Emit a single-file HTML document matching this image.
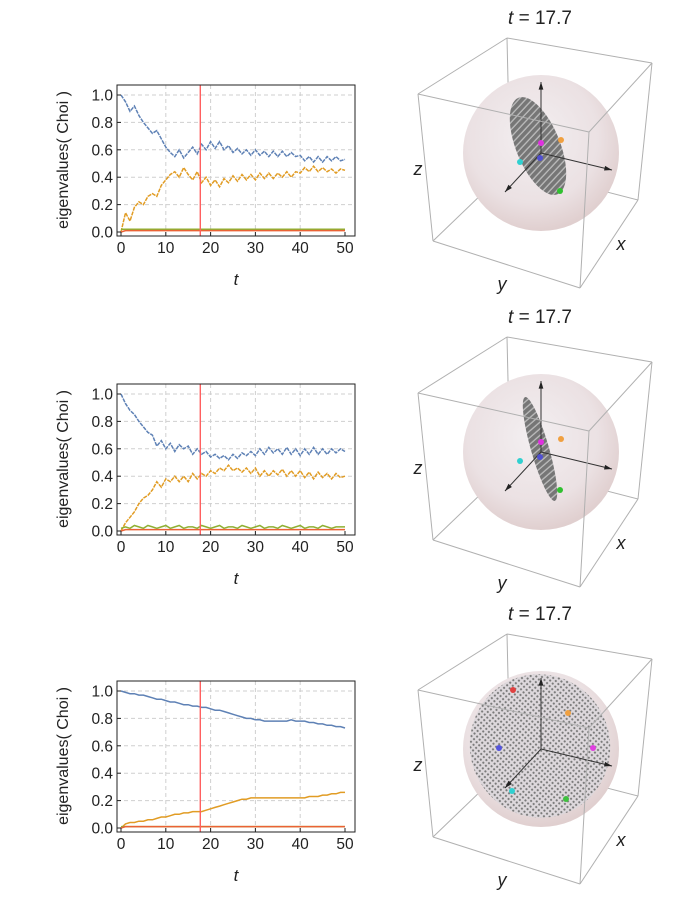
<!DOCTYPE html>
<html><head><meta charset="utf-8"><style>
body{margin:0;background:#fff;}
svg text{font-family:"Liberation Sans",sans-serif;}
</style></head><body>
<svg id="s" width="700" height="900" viewBox="0 0 700 900" xmlns="http://www.w3.org/2000/svg">
<defs>
<radialGradient id="sph" cx="45%" cy="40%" r="60%">
<stop offset="0" stop-color="#f3eff1"/><stop offset="0.7" stop-color="#ebe1e3"/><stop offset="1" stop-color="#e0cfcf"/>
</radialGradient>
<pattern id="stripe" width="5" height="5" patternUnits="userSpaceOnUse" patternTransform="rotate(-25)">
<rect width="5" height="5" fill="#767676"/><rect y="3.2" width="5" height="1.3" fill="#bdbdbd"/>
</pattern>
<pattern id="dots" width="4" height="4" patternUnits="userSpaceOnUse" patternTransform="rotate(-20)">
<rect width="4" height="4" fill="#ddd8dc"/><circle cx="2" cy="2" r="1.1" fill="#7a7a7a"/>
</pattern>
</defs>
</svg>
<script>
const tVals=[];for(let i=0;i<=50;i++)tVals.push(i);
const xTicks=[0,10,20,30,40,50];
const yTicks=[0.0,0.2,0.4,0.6,0.8,1.0];
const yTickLabels=["0.0","0.2","0.4","0.6","0.8","1.0"];
const markerT=17.7;
const blue1=[1.0,0.95,0.88,0.92,0.85,0.80,0.76,0.72,0.74,0.68,0.62,0.58,0.55,0.60,0.54,0.58,0.62,0.57,0.64,0.60,0.66,0.61,0.66,0.60,0.63,0.58,0.61,0.57,0.60,0.56,0.60,0.56,0.59,0.55,0.59,0.55,0.59,0.55,0.58,0.55,0.56,0.52,0.55,0.51,0.55,0.51,0.55,0.52,0.55,0.52,0.53];
const orange1=[0.0,0.14,0.08,0.18,0.22,0.20,0.26,0.28,0.26,0.34,0.38,0.42,0.44,0.40,0.47,0.42,0.38,0.44,0.36,0.40,0.34,0.38,0.33,0.39,0.36,0.41,0.37,0.42,0.38,0.42,0.38,0.43,0.39,0.43,0.39,0.43,0.40,0.44,0.40,0.44,0.43,0.47,0.44,0.48,0.44,0.47,0.44,0.46,0.43,0.46,0.45];
const green1=[0.02,0.02,0.02,0.02,0.02,0.02,0.02,0.02,0.02,0.02,0.02,0.02,0.02,0.02,0.02,0.02,0.02,0.02,0.02,0.02,0.02,0.02,0.02,0.02,0.02,0.02,0.02,0.02,0.02,0.02,0.02,0.02,0.02,0.02,0.02,0.02,0.02,0.02,0.02,0.02,0.02,0.02,0.02,0.02,0.02,0.02,0.02,0.02,0.02,0.02,0.02];
const red1=[0.0,0.01,0.01,0.01,0.01,0.01,0.01,0.01,0.01,0.01,0.01,0.01,0.01,0.01,0.01,0.01,0.01,0.01,0.01,0.01,0.01,0.01,0.01,0.01,0.01,0.01,0.01,0.01,0.01,0.01,0.01,0.01,0.01,0.01,0.01,0.01,0.01,0.01,0.01,0.01,0.01,0.01,0.01,0.01,0.01,0.01,0.01,0.01,0.01,0.01,0.01];
const blue2=[1.0,0.93,0.88,0.85,0.80,0.76,0.72,0.70,0.62,0.66,0.60,0.64,0.58,0.63,0.60,0.62,0.56,0.60,0.56,0.58,0.54,0.56,0.53,0.55,0.52,0.56,0.53,0.57,0.55,0.58,0.55,0.60,0.56,0.61,0.57,0.60,0.56,0.61,0.56,0.60,0.55,0.60,0.56,0.61,0.56,0.60,0.56,0.60,0.57,0.60,0.58];
const orange2=[0.0,0.06,0.10,0.14,0.20,0.24,0.26,0.30,0.36,0.32,0.38,0.36,0.40,0.36,0.40,0.36,0.42,0.38,0.42,0.40,0.44,0.42,0.46,0.44,0.48,0.44,0.46,0.43,0.46,0.42,0.46,0.40,0.44,0.40,0.44,0.41,0.45,0.40,0.44,0.40,0.44,0.39,0.43,0.38,0.43,0.39,0.42,0.38,0.42,0.39,0.40];
const green2=[0.02,0.03,0.02,0.04,0.03,0.02,0.04,0.03,0.02,0.03,0.04,0.02,0.03,0.04,0.02,0.03,0.03,0.02,0.04,0.03,0.02,0.03,0.04,0.02,0.03,0.03,0.02,0.04,0.03,0.02,0.03,0.04,0.02,0.03,0.03,0.02,0.04,0.03,0.02,0.03,0.04,0.02,0.03,0.03,0.02,0.04,0.03,0.02,0.03,0.03,0.03];
const red2=red1.slice();
const blue3=[1.0,0.99,0.98,0.98,0.97,0.97,0.96,0.95,0.94,0.94,0.93,0.92,0.92,0.91,0.90,0.90,0.89,0.89,0.88,0.88,0.87,0.86,0.86,0.85,0.84,0.83,0.82,0.81,0.80,0.80,0.79,0.79,0.78,0.78,0.78,0.78,0.78,0.78,0.79,0.78,0.78,0.78,0.77,0.77,0.76,0.76,0.75,0.75,0.74,0.74,0.73];
const orange3=[0.0,0.03,0.04,0.04,0.05,0.05,0.06,0.06,0.07,0.08,0.08,0.09,0.10,0.10,0.11,0.11,0.12,0.12,0.12,0.13,0.14,0.15,0.16,0.17,0.18,0.19,0.20,0.21,0.21,0.22,0.22,0.22,0.22,0.22,0.22,0.22,0.22,0.22,0.22,0.22,0.22,0.22,0.23,0.23,0.23,0.24,0.24,0.25,0.25,0.26,0.26];
const green3=[0.01,0.01,0.01,0.01,0.01,0.01,0.01,0.01,0.01,0.01,0.01,0.01,0.01,0.01,0.01,0.01,0.01,0.01,0.01,0.01,0.01,0.01,0.01,0.01,0.01,0.01,0.01,0.01,0.01,0.01,0.01,0.01,0.01,0.01,0.01,0.01,0.01,0.01,0.01,0.01,0.01,0.01,0.01,0.01,0.01,0.01,0.01,0.01,0.01,0.01,0.01];
const red3=red1.slice();

const svg=document.getElementById('s');
const NS='http://www.w3.org/2000/svg';
function mk(tag,attrs,parent){const e=document.createElementNS(NS,tag);for(const k in attrs)e.setAttribute(k,attrs[k]);(parent||svg).appendChild(e);return e;}

const panels=[
 {dy:0,series:[blue1,orange1,green1,red1],dash:true,ell:{rx:22,ry:52,rot:-22,cx:538,cy:146,fill:'url(#stripe)'}},
 {dy:299,series:[blue2,orange2,green2,red2],dash:true,ell:{rx:9,ry:54,rot:-16,cx:540,cy:150,fill:'url(#stripe)'}},
 {dy:596,series:[blue3,orange3,green3,red3],dash:false,ell:{rx:70,ry:72,rot:-20,cx:540,cy:150,fill:'url(#dots)'}}
];
const colors=['#5e81b5','#e19c24','#8fb032','#eb6235'];
const names=['blue','orange','green','red'];

panels.forEach((p,pi)=>{
 const g=mk('g',{transform:'translate(0,'+p.dy+')'});
 
 
 const L=117,R=355,T=85,B=236;
 const x=v=>121+(v/50)*224;
 const y=v=>232-v*137;
 xTicks.forEach(v=>{if(v>0&&v<50){const l=mk('line',{x1:x(v),x2:x(v),y1:T,y2:B,stroke:'#cfcfcf','stroke-dasharray':'4,3'},g);}});
 yTicks.forEach(v=>{if(v>0){const l=mk('line',{x1:L,x2:R,y1:y(v),y2:y(v),stroke:'#cfcfcf','stroke-dasharray':'4,3'},g);}});
 p.series.forEach((s,si)=>{
  const d=s.map((v,i)=>(i?'L':'M')+x(tVals[i]).toFixed(1)+','+y(v).toFixed(1)).join('');
  const path=mk('path',{d:d,fill:'none',stroke:colors[si],'stroke-width':1.5,'stroke-dasharray':p.dash&&si<2?'4,1':'none'},g);
  
  
 });
 const ml=mk('line',{x1:x(markerT),x2:x(markerT),y1:T,y2:B,stroke:'#ff6060','stroke-width':1.4},g);
 
 
 const fr=mk('rect',{x:L,y:T,width:R-L,height:B-T,fill:'none',stroke:'#222','stroke-width':1},g);
 
 
 xTicks.forEach(v=>{
  mk('line',{x1:x(v),x2:x(v),y1:B,y2:B-4,stroke:'#222'},g);
  const t=mk('text',{x:x(v),y:B+17,'font-size':15.5,'text-anchor':'middle',fill:'#222'},g);t.textContent=v;
  
 });
 yTicks.forEach((v,i)=>{
  mk('line',{x1:L,x2:L+4,y1:y(v),y2:y(v),stroke:'#222'},g);
  const t=mk('text',{x:L-4,y:y(v)+5.5,'font-size':15.5,'text-anchor':'end',fill:'#222'},g);t.textContent=yTickLabels[i];
  
 });
 const yl=mk('text',{x:0,y:0,'font-size':16,'text-anchor':'middle',fill:'#222',transform:'translate(68,160) rotate(-90)'},g);
 yl.textContent='eigenvalues( Choi )';
 const xl=mk('text',{x:236,y:285,'font-size':17,'text-anchor':'middle','font-style':'italic',fill:'#222'},g);
 xl.textContent='t';

 const ti=mk('text',{x:540,y:24,'font-size':19,'text-anchor':'middle',fill:'#222'},g);
 ti.innerHTML='<tspan font-style="italic">t</tspan> = 17.7';
 
 const V={btl:[507,38],btr:[652,63],ftl:[418,94],ftr:[589,132],fbl:[433,241],fbr:[580,288],bbr:[638,200],bbl:[510,167]};
 const back=[['btl','btr'],['btl','ftl'],['btl','bbl'],['bbl','bbr'],['bbl','fbl'],['btr','bbr']];
 back.forEach(e=>mk('line',{x1:V[e[0]][0],y1:V[e[0]][1],x2:V[e[1]][0],y2:V[e[1]][1],stroke:'#b0b0b0','stroke-width':1},g));
 const sp=mk('circle',{cx:541,cy:153,r:78,fill:'url(#sph)'},g);
 
 const el=mk('ellipse',{cx:p.ell.cx,cy:p.ell.cy,rx:p.ell.rx,ry:p.ell.ry,fill:p.ell.fill,transform:'rotate('+p.ell.rot+' '+p.ell.cx+' '+p.ell.cy+')'},g);
 
 [[541,153,541,82],[541,153,612,170],[541,153,505,192]].forEach(a=>{
  mk('line',{x1:a[0],y1:a[1],x2:a[2],y2:a[3],stroke:'#333','stroke-width':1},g);
  const ang=Math.atan2(a[3]-a[1],a[2]-a[0]);const s=8;
  const p1=[a[2]-s*Math.cos(ang-0.3),a[3]-s*Math.sin(ang-0.3)],p2=[a[2]-s*Math.cos(ang+0.3),a[3]-s*Math.sin(ang+0.3)];
  mk('polygon',{points:a[2]+','+a[3]+' '+p1+' '+p2,fill:'#222'},g);
 });
 const pts=pi===2?[[513,94,'#e04040'],[568,117,'#f0a040'],[499,152,'#5555dd'],[593,152,'#e040e0'],[512,195,'#30d0d0'],[566,203,'#40c040']]
   :[[541,143,'#e030e0'],[540,158,'#5050d0'],[520,162,'#30d0d0'],[560,191,'#30c030'],[561,140,'#f0a040']];
 pts.forEach(q=>{const c=mk('circle',{cx:q[0],cy:q[1],r:3,fill:q[2]},g);});
 const front=[['ftl','ftr'],['ftl','fbl'],['fbl','fbr'],['ftr','fbr'],['btr','ftr'],['bbr','fbr']];
 front.forEach(e=>mk('line',{x1:V[e[0]][0],y1:V[e[0]][1],x2:V[e[1]][0],y2:V[e[1]][1],stroke:'#b0b0b0','stroke-width':1},g));
 [['z',418,175],['x',621,250],['y',502,290]].forEach(l=>{
  const t=mk('text',{x:l[1],y:l[2],'font-size':18,'font-style':'italic','text-anchor':'middle',fill:'#222'},g);t.textContent=l[0];
  
 });
});
</script>
</body></html>
